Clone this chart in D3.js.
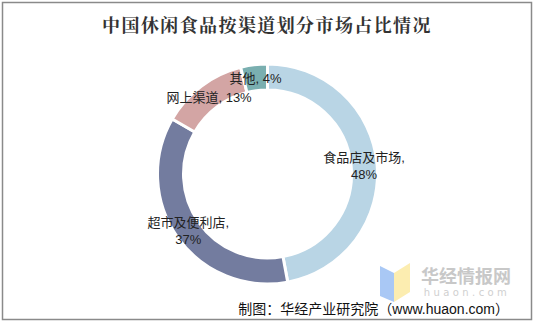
<!DOCTYPE html>
<html><head><meta charset="utf-8">
<script src="https://cdn.jsdelivr.net/npm/d3@7"></script>
<style>html,body{margin:0;padding:0;background:#fff;}svg{display:block;}</style>
</head><body>
<script>
const title = "中国休闲食品按渠道划分市场占比情况";
const categories = ["食品店及市场", "超市及便利店", "网上渠道", "其他"];
const values = [48, 37, 13, 4];
const colors = ["#b9d5e5", "#737c9f", "#d3a5a4", "#7aafb0"];
const source = "制图：华经产业研究院（www.huaon.com）";

const W = 535, H = 323;
const svg = d3.select("body").append("svg").attr("width", W).attr("height", H);
svg.append("rect").attr("x", 2.5).attr("y", 2.5).attr("width", 529).attr("height", 317)
  .attr("fill", "#fff").attr("stroke", "#8a8a8a").attr("stroke-width", 1.5);

svg.append("text").attr("x", 267).attr("y", 32).attr("text-anchor", "middle")
  .attr("font-family", "'Noto Serif CJK SC','Noto Sans CJK SC',serif").attr("font-weight", "bold")
  .attr("font-size", 18).attr("letter-spacing", 1.4).attr("fill", "#333").text(title);

// watermark logo
const logo = svg.append("g");
logo.append("polygon").attr("points", "380,266 394,273 394,302 380,296").attr("fill", "#a9c8f5");
logo.append("polygon").attr("points", "394,273 410,263 410,292 394,302").attr("fill", "#fcedb0");
logo.append("text").attr("x", 466).attr("y", 283).attr("text-anchor", "middle")
  .attr("font-family", "'Noto Sans CJK SC',sans-serif").attr("font-weight", "bold")
  .attr("font-size", 18).attr("fill", "#c8c8c8").text("华经情报网");
logo.append("text").attr("x", 467).attr("y", 296).attr("text-anchor", "middle")
  .attr("font-family", "'DejaVu Sans',sans-serif").attr("font-size", 10).attr("letter-spacing", 3.4)
  .attr("fill", "#d0d0d0").text("huaon.com");

const cx = 267.5, cy = 174, rOut = 110, rIn = 84;
const pie = d3.pie().sort(null).value(d => d)(values);
const arc = d3.arc().innerRadius(rIn).outerRadius(rOut);
const g = svg.append("g").attr("transform", `translate(${cx},${cy})`);
g.selectAll("path").data(pie).join("path")
  .attr("d", arc).attr("fill", (d, i) => colors[i])
  .attr("stroke", "#fff").attr("stroke-width", 3);

const labelArc = d3.arc().innerRadius(97).outerRadius(97);
pie.forEach((d, i) => {
  const [x, y] = labelArc.centroid(d);
  const t = g.append("text").attr("text-anchor", "middle")
    .attr("font-family", "'Liberation Sans','Noto Sans CJK SC',sans-serif").attr("font-size", 13).attr("fill", "#222");
  const name = categories[i] + ",";
  const pct = values[i] + "%";
  if (categories[i].length >= 5) {
    t.append("tspan").attr("x", x).attr("y", y - 3).text(name);
    t.append("tspan").attr("x", x).attr("y", y + 14).text(pct);
  } else {
    t.append("tspan").attr("x", x).attr("y", y + 5).text(name + " " + pct);
  }
});

svg.append("text").attr("x", 509).attr("y", 314).attr("text-anchor", "end")
  .attr("font-family", "'Liberation Sans','Noto Sans CJK SC',sans-serif").attr("font-size", 14).attr("fill", "#111").text(source);
</script>
</body></html>
